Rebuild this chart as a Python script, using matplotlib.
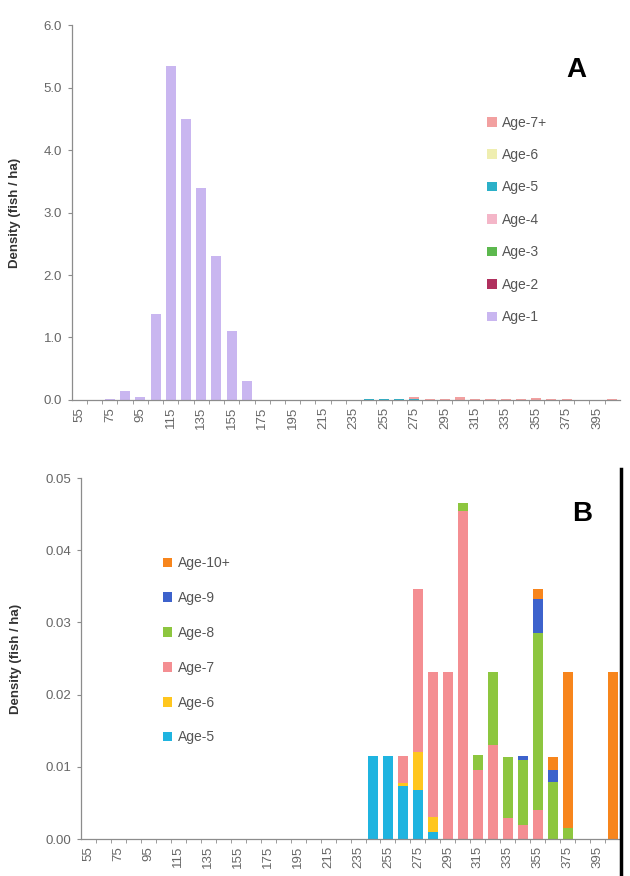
import matplotlib
matplotlib.use("Agg")
import matplotlib.pyplot as plt
from matplotlib.lines import Line2D
import numpy as np

plt.rcParams['font.family'] = ['Liberation Sans', 'DejaVu Sans']

# length bins (mm), 10 mm classes
sizes = list(range(55, 406, 10))
tick_labels = [str(s) if i % 2 == 0 else '' for i, s in enumerate(sizes)]

# ---- panel A: density (fish / ha) by age ----
a_age1 = [0, 0, 0.02, 0.15, 0.05, 1.38, 5.35, 4.5, 3.4, 2.3, 1.1, 0.3,
          0, 0, 0, 0, 0, 0, 0, 0, 0, 0, 0, 0,
          0, 0, 0, 0, 0, 0, 0, 0, 0, 0, 0, 0]
a_age2 = [0] * 36
a_age3 = [0] * 36
a_age4 = [0] * 36
a_age5 = [0, 0, 0, 0, 0, 0, 0, 0, 0, 0, 0, 0,
          0, 0, 0, 0, 0, 0, 0, 0.01, 0.01, 0.01, 0.01, 0,
          0, 0, 0, 0, 0, 0, 0, 0, 0, 0, 0, 0]
a_age6 = [0] * 36
a_age7p = [0, 0, 0, 0, 0, 0, 0, 0, 0, 0, 0, 0,
           0, 0, 0, 0, 0, 0, 0, 0, 0, 0, 0.03, 0.02,
           0.02, 0.04, 0.01, 0.02, 0.01, 0.01, 0.03, 0.01, 0.02, 0, 0, 0.02]
a_series = [('Age-1', a_age1, '#c9b6f0'), ('Age-2', a_age2, '#b0305e'),
            ('Age-3', a_age3, '#5cb84e'), ('Age-4', a_age4, '#f4b6c8'),
            ('Age-5', a_age5, '#2bb0c8'), ('Age-6', a_age6, '#efeeb0'),
            ('Age-7+', a_age7p, '#f2a0a0')]

# ---- panel B: older fish ----
b_age5 = [0, 0, 0, 0, 0, 0, 0, 0, 0, 0, 0, 0,
          0, 0, 0, 0, 0, 0, 0, 0.0115, 0.0115, 0.0074, 0.0068, 0.0010,
          0, 0, 0, 0, 0, 0, 0, 0, 0, 0, 0, 0]
b_age6 = [0, 0, 0, 0, 0, 0, 0, 0, 0, 0, 0, 0,
          0, 0, 0, 0, 0, 0, 0, 0, 0, 0.0003, 0.0053, 0.0021,
          0, 0, 0, 0, 0, 0, 0, 0, 0, 0, 0, 0]
b_age7 = [0, 0, 0, 0, 0, 0, 0, 0, 0, 0, 0, 0,
          0, 0, 0, 0, 0, 0, 0, 0, 0, 0.0038, 0.0226, 0.0201,
          0.0232, 0.0455, 0.0096, 0.0130, 0.0029, 0.0019, 0.0040, 0, 0, 0, 0, 0]
b_age8 = [0, 0, 0, 0, 0, 0, 0, 0, 0, 0, 0, 0,
          0, 0, 0, 0, 0, 0, 0, 0, 0, 0, 0, 0,
          0, 0.0010, 0.0020, 0.0102, 0.0085, 0.0090, 0.0245, 0.0079, 0.0015, 0, 0, 0]
b_age9 = [0, 0, 0, 0, 0, 0, 0, 0, 0, 0, 0, 0,
          0, 0, 0, 0, 0, 0, 0, 0, 0, 0, 0, 0,
          0, 0, 0, 0, 0, 0.0006, 0.0048, 0.0017, 0, 0, 0, 0]
b_age10p = [0, 0, 0, 0, 0, 0, 0, 0, 0, 0, 0, 0,
            0, 0, 0, 0, 0, 0, 0, 0, 0, 0, 0, 0,
            0, 0, 0, 0, 0, 0, 0.0014, 0.0018, 0.0217, 0, 0, 0.0232]
b_series = [('Age-5', b_age5, '#1fb4e0'), ('Age-6', b_age6, '#ffc61e'),
            ('Age-7', b_age7, '#f48e92'), ('Age-8', b_age8, '#8dc63f'),
            ('Age-9', b_age9, '#3d62cc'), ('Age-10+', b_age10p, '#f7851c')]

fig = plt.figure(figsize=(6.3, 8.76), dpi=100)
axA = fig.add_axes([0.114, 0.5434, 0.870, 0.428])
axB = fig.add_axes([0.1286, 0.0422, 0.8556, 0.412])

x = np.arange(len(sizes))
grey = '#8c8c8c'


def stacked(ax, series):
    bottom = np.zeros(len(sizes))
    handles = []
    for name, vals, col in series:
        h = ax.bar(x, vals, width=0.66, bottom=bottom, color=col,
                   label=name, linewidth=0)
        bottom += np.array(vals)
        handles.append(h)
    return handles


def style(ax, ymax, step, fmt):
    ax.set_xlim(-0.5, len(sizes) - 0.5)
    ax.set_ylim(0, ymax)
    ax.set_yticks(np.arange(0, ymax + step / 2, step))
    ax.set_yticklabels([fmt.format(v) for v in np.arange(0, ymax + step / 2, step)])
    ax.set_xticks(x)
    ax.set_xticklabels(tick_labels, rotation=90)
    ax.set_xticks(x[:-1] + 0.5, minor=True)
    ax.tick_params(axis='x', which='major', length=0, pad=5, labelsize=9.5,
                   colors='#666666')
    ax.tick_params(axis='x', which='minor', length=3, direction='out', color=grey)
    ax.tick_params(axis='y', length=3, direction='out', color=grey,
                   labelsize=9.5, labelcolor='#666666', pad=4)
    for s in ['top', 'right']:
        ax.spines[s].set_visible(False)
    for s in ['left', 'bottom']:
        ax.spines[s].set_color(grey)
        ax.spines[s].set_linewidth(0.9)
    ax.set_ylabel('Density (fish / ha)', fontsize=9.5, fontweight='bold',
                  color='#333333')


hA = stacked(axA, a_series)
style(axA, 6.0, 1.0, '{:.1f}')
axA.yaxis.set_label_coords(-0.092, 0.5)
axA.legend(hA[::-1], [s[0] for s in a_series][::-1], loc='upper left',
           bbox_to_anchor=(0.735, 0.792), frameon=False, fontsize=10,
           handlelength=0.7, handleheight=0.7, handletextpad=0.4,
           labelspacing=1.33, labelcolor='#555555')
axA.text(0.92, 0.88, 'A', transform=axA.transAxes, fontsize=20,
         fontweight='bold', ha='center', va='center')

hB = stacked(axB, b_series)
style(axB, 0.05, 0.01, '{:.2f}')
axB.yaxis.set_label_coords(-0.109, 0.5)
axB.legend(hB[::-1], [s[0] for s in b_series][::-1], loc='upper left',
           bbox_to_anchor=(0.128, 0.818), frameon=False, fontsize=10,
           handlelength=0.7, handleheight=0.7, handletextpad=0.4,
           labelspacing=1.5, labelcolor='#555555')
axB.text(0.93, 0.90, 'B', transform=axB.transAxes, fontsize=20,
         fontweight='bold', ha='center', va='center')

# dark edge line at right of lower panel
fig.add_artist(Line2D([0.986, 0.986], [0.0, 0.465], color='black',
                      linewidth=2.5, transform=fig.transFigure))

fig.savefig('out.png', dpi=100, facecolor='white')
